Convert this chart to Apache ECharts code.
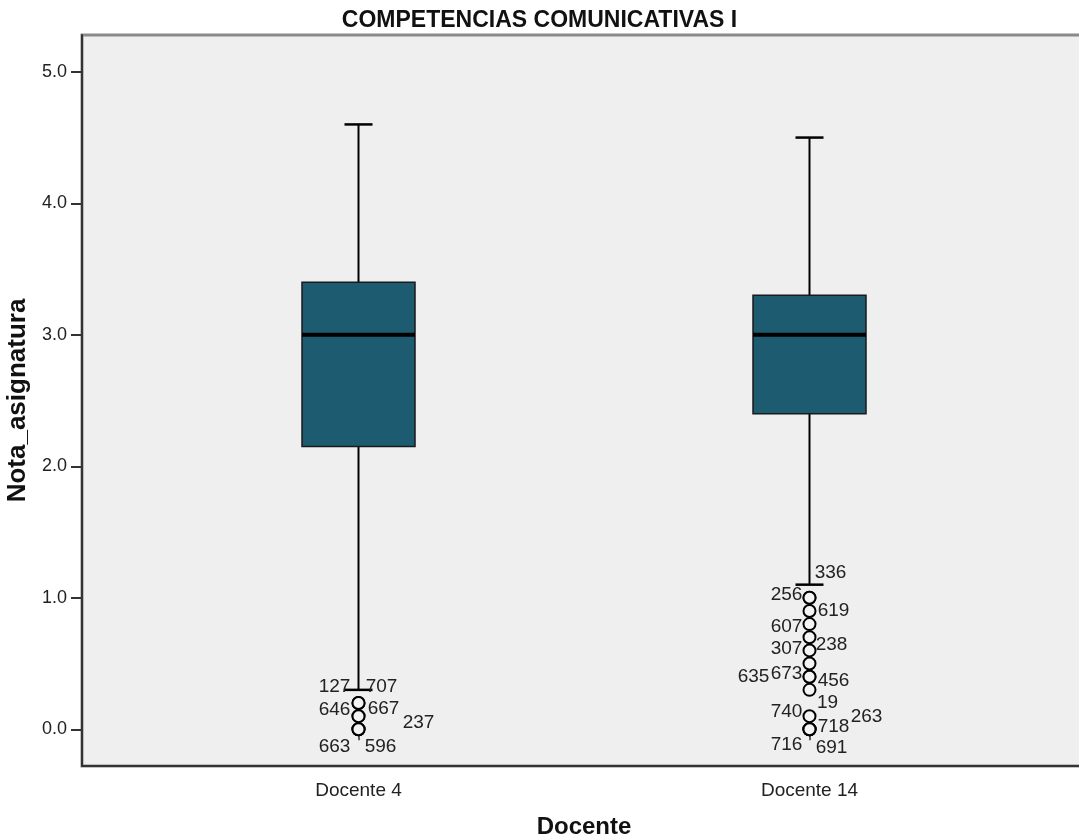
<!DOCTYPE html>
<html>
<head>
<meta charset="utf-8">
<title>COMPETENCIAS COMUNICATIVAS I</title>
<script src="https://cdn.jsdelivr.net/npm/echarts@6/dist/echarts.min.js"></script>
<style>
  html, body { margin: 0; padding: 0; background: #ffffff; }
  #chart { width: 1079px; height: 835px; }
</style>
</head>
<body>
<div id="chart"></div>
<script>
// Groups on the x axis
const categories = ['Docente 4', 'Docente 14'];

// Five-number summary per group: [lower whisker, Q1, median, Q3, upper whisker]
const lowerWhisker = [0.3, 1.1];
const q1Values     = [2.15, 2.4];
const medians      = [3.0, 3.0];
const q3Values     = [3.4, 3.3];
const upperWhisker = [4.6, 4.5];

// Outlying cases: group index, grade and case number
const outlierGroup = [0, 0, 0, 0, 0, 0, 0,
                      1, 1, 1, 1, 1, 1, 1, 1, 1, 1, 1, 1, 1, 1, 1];
const outlierValue = [0.2, 0.2, 0.1, 0.1, 0.0, 0.0, 0.0,
                      1.0, 1.0, 0.9, 0.8, 0.7, 0.6, 0.5, 0.4, 0.4, 0.3, 0.1, 0.0, 0.0, 0.0, 0.0];
const outlierCase  = ['127', '707', '646', '667', '237', '663', '596',
                      '336', '256', '619', '607', '238', '307', '673', '635', '456', '19', '740', '718', '263', '716', '691'];

// Y axis tick values
const yTicks = [0, 1, 2, 3, 4, 5];

// Label placement around each case marker (pixels), so stacked labels do not collide
const labelOffsets = [
  [-24, -16], [23, -16], [-24, -6], [25, -7], [60, -7], [-24, 17], [22, 17],
  [21, -25], [-23, -3], [24, 0], [-23, 3], [22, 8], [-23, -2], [-23, 10],
  [-56, 0], [24, 4], [18, 13], [-23, -4], [24, -3], [57, -13], [-23, 15], [22, 18]
];

const FONT = "'Liberation Sans', Arial, sans-serif";
const Y_MIN = -0.279, Y_MAX = 5.28;

const boxData = categories.map((c, i) => [i, lowerWhisker[i], q1Values[i], medians[i], q3Values[i], upperWhisker[i]]);

const outlierData = outlierValue.map((v, i) => ({
  name: outlierCase[i],
  value: [outlierGroup[i], v],
  label: { offset: labelOffsets[i] }
}));

function renderBox(params, api) {
  const idx = api.value(0);
  const pLow = api.coord([idx, api.value(1)]);
  const pQ1 = api.coord([idx, api.value(2)]);
  const pMed = api.coord([idx, api.value(3)]);
  const pQ3 = api.coord([idx, api.value(4)]);
  const pHigh = api.coord([idx, api.value(5)]);
  const x = pMed[0];
  const halfBox = 56.5;
  const halfCap = 14;
  const lineStyle = { stroke: '#000000', lineWidth: 2 };
  return {
    type: 'group',
    children: [
      { type: 'line', shape: { x1: x, y1: pHigh[1], x2: x, y2: pQ3[1] }, style: lineStyle },
      { type: 'line', shape: { x1: x, y1: pQ1[1], x2: x, y2: pLow[1] }, style: lineStyle },
      { type: 'line', shape: { x1: x - halfCap, y1: pHigh[1], x2: x + halfCap, y2: pHigh[1] }, style: { stroke: '#000000', lineWidth: 2.5 } },
      { type: 'line', shape: { x1: x - halfCap, y1: pLow[1], x2: x + halfCap, y2: pLow[1] }, style: { stroke: '#000000', lineWidth: 2.5 } },
      { type: 'rect', shape: { x: x - halfBox, y: pQ3[1], width: halfBox * 2, height: pQ1[1] - pQ3[1] },
        style: { fill: '#1d5b70', stroke: '#1a1a1a', lineWidth: 1.5 } },
      { type: 'line', shape: { x1: x - halfBox, y1: pMed[1], x2: x + halfBox, y2: pMed[1] }, style: { stroke: '#000000', lineWidth: 4 } }
    ]
  };
}

const chart = echarts.init(document.getElementById('chart'), null, { renderer: 'canvas' });

chart.setOption({
  backgroundColor: '#ffffff',
  animation: false,
  title: {
    text: 'COMPETENCIAS COMUNICATIVAS I',
    left: 'center',
    top: 9,
    padding: 0,
    textStyle: { fontFamily: FONT, fontSize: 23, fontWeight: 'bold', color: '#111111' }
  },
  grid: [
    // plot frame with the grade axis
    { left: 82, right: -20, top: 35, bottom: 69, show: true, backgroundColor: '#efefef',
      borderColor: '#8a8a8a', borderWidth: 3, containLabel: false, outerBoundsMode: 'none' },
    // area holding the two groups
    { left: 133, right: 44, top: 35, bottom: 69, show: false, containLabel: false, outerBoundsMode: 'none' }
  ],
  xAxis: [
    { type: 'value', gridIndex: 0, min: 0, max: 1,
      axisLine: { show: true, onZero: false, lineStyle: { color: '#333333', width: 2 } },
      axisTick: { show: false }, axisLabel: { show: false }, splitLine: { show: false } },
    { type: 'category', gridIndex: 1, data: categories,
      axisLine: { show: false },
      axisTick: { show: true, alignWithLabel: true, length: 11, lineStyle: { color: '#333333', width: 1.5 } },
      axisLabel: { margin: 15, fontFamily: FONT, fontSize: 19, color: '#222222' },
      splitLine: { show: false },
      name: 'Docente', nameLocation: 'middle', nameGap: 49,
      nameTextStyle: { fontFamily: FONT, fontSize: 24, fontWeight: 'bold', color: '#111111' } }
  ],
  yAxis: [
    { type: 'value', gridIndex: 0, min: Y_MIN, max: Y_MAX,
      axisLine: { show: true, onZero: false, lineStyle: { color: '#333333', width: 2 } },
      axisTick: { show: true, length: 11, customValues: yTicks, lineStyle: { color: '#333333', width: 2 } },
      axisLabel: { customValues: yTicks, margin: 15, fontFamily: FONT, fontSize: 18, color: '#222222',
        formatter: v => Number(v).toFixed(1) },
      splitLine: { show: false },
      name: 'Nota_asignatura', nameLocation: 'middle', nameGap: 41,
      nameTextStyle: { fontFamily: FONT, fontSize: 26, fontWeight: 'bold', color: '#111111' } },
    { type: 'value', gridIndex: 1, min: Y_MIN, max: Y_MAX, show: false, splitLine: { show: false } }
  ],
  series: [
    {
      type: 'custom',
      xAxisIndex: 1, yAxisIndex: 1,
      data: boxData,
      encode: { x: 0, y: [1, 2, 3, 4, 5] },
      renderItem: renderBox,
      z: 2
    },
    {
      type: 'scatter',
      xAxisIndex: 1, yAxisIndex: 1,
      data: outlierData,
      symbol: 'circle',
      symbolSize: 12,
      itemStyle: { color: '#f4f4f4', borderColor: '#000000', borderWidth: 2, opacity: 1 },
      label: { show: true, position: 'inside', formatter: '{b}', fontFamily: FONT, fontSize: 19, color: '#222222' },
      emphasis: { disabled: true },
      z: 3
    }
  ]
});
</script>
</body>
</html>
